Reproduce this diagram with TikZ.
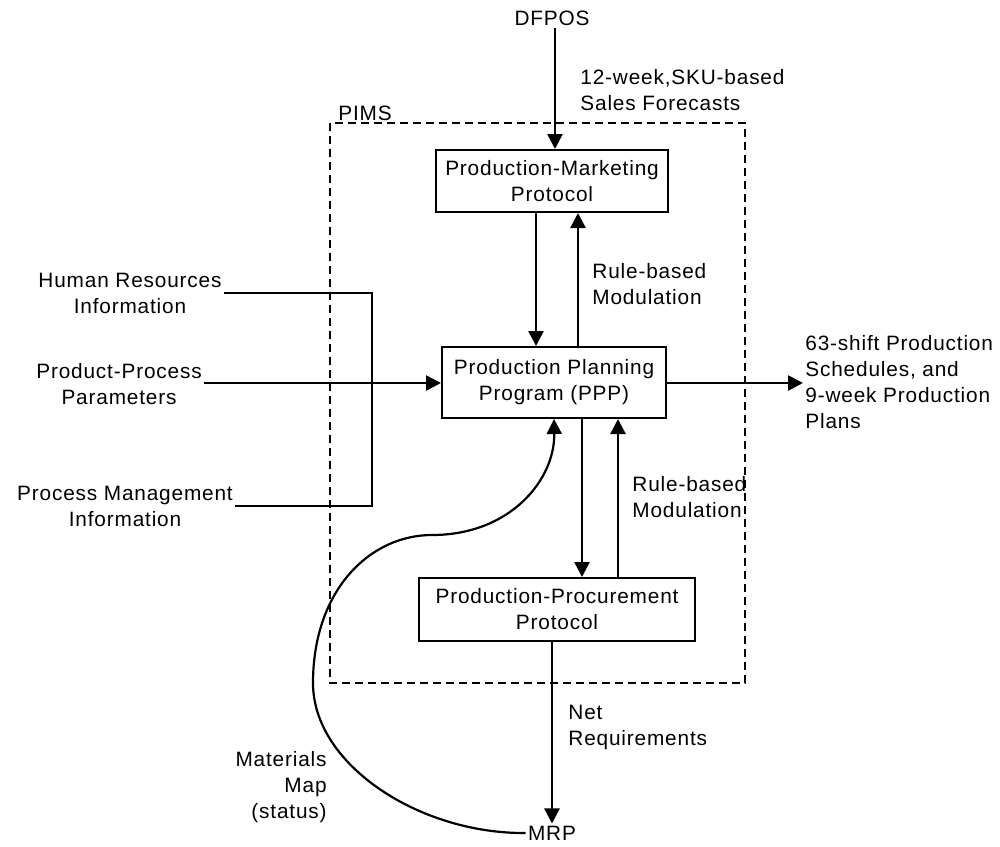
\documentclass[tikz,border=0pt]{standalone}
\usepackage{fontspec}
\setmainfont{Liberation Sans}[LetterSpace=4]
\usetikzlibrary{arrows.meta}
\begin{document}
\begin{tikzpicture}[x=0.5pt,y=-0.5pt,
  font=\fontsize{10.4}{13}\selectfont,
  box/.style={draw,line width=1pt,inner sep=0pt,align=center},
  lbl/.style={inner sep=1pt,align=left},
  flow/.style={line width=1.3pt,-{Triangle[length=7.5pt,width=7.5pt]}},
  plain/.style={line width=1.3pt},
  frame/.style={line width=1.2pt,dash pattern=on 4pt off 2.5pt}]
\useasboundingbox (0,0) rectangle (1000,846);

% PIMS boundary
\draw[frame] (330,123) rectangle (745,683);
\node[lbl,anchor=south west] (pims) at (336,123) {PIMS};

% main blocks
\node[box,minimum width=116pt,minimum height=31pt] (pm) at (552,181) {Production-Marketing\\Protocol};
\node[box,minimum width=112pt,minimum height=35.5pt] (ppp) at (554,382.5) {Production Planning\\Program (PPP)};
\node[box,minimum width=138pt,minimum height=31.5pt] (proc) at (557,609.5) {Production-Procurement\\Protocol};

% outside sources and sinks
\node[lbl] (dfpos) at (552,18) {DFPOS};
\node[lbl,align=center] (hr) at (130,293) {Human Resources\\Information};
\node[lbl,align=center] (pp) at (119,384) {Product-Process\\Parameters};
\node[lbl,align=center] (pmi) at (125,506) {Process Management\\Information};
\node[lbl,anchor=west] (out) at (803,382) {63-shift Production\\Schedules, and\\9-week Production\\Plans};
\node[lbl] (mrp) at (552,833) {MRP};

% connector labels
\node[lbl,anchor=west] (fc) at (578,90) {12-week,SKU-based\\Sales Forecasts};
\node[lbl,anchor=west] (rb1) at (590,284) {Rule-based\\Modulation};
\node[lbl,anchor=west] (rb2) at (630,497) {Rule-based\\Modulation};
\node[lbl,anchor=west] (net) at (566,727) {Net\\Requirements};
\node[lbl,anchor=east,align=right] (mat) at (329,787) {Materials\\Map\\(status)};

% forecast input
\draw[flow] ([xshift=1.5pt]dfpos.south) -- ([xshift=1.5pt]dfpos.south |- pm.north);

% protocol exchanges
\draw[flow] ([xshift=-8pt]pm.south) -- ([xshift=-8pt]pm.south |- ppp.north);
\draw[flow] ([xshift=13pt]pm.south |- ppp.north) -- ([xshift=13pt]pm.south);
\draw[flow] ([xshift=14pt]ppp.south) -- ([xshift=14pt]ppp.south |- proc.north);
\draw[flow] ([xshift=32pt]ppp.south |- proc.north) -- ([xshift=32pt]ppp.south);

% merged planning inputs
\coordinate (join) at (372,383);
\draw[plain] (hr.east) -- (hr.east -| join) -- (pmi.east -| join) -- (pmi.east);
\draw[flow] (pp.east |- join) -- (join -| ppp.west);

% outputs
\draw[flow] (ppp.east |- join) -- (join -| out.west);
\draw[flow] (proc.south -| mrp.north) -- (mrp.north);

% materials status feedback
\draw[line width=1.1pt,-{Triangle[length=7.5pt,width=7.5pt]}] (mrp.west)
  .. controls (420,834) and (313,765) .. (313,683)
  .. controls (313,590) and (370,535) .. (432,535)
  .. controls (510,535) and (555,480) .. (ppp.south);
\end{tikzpicture}
\end{document}
